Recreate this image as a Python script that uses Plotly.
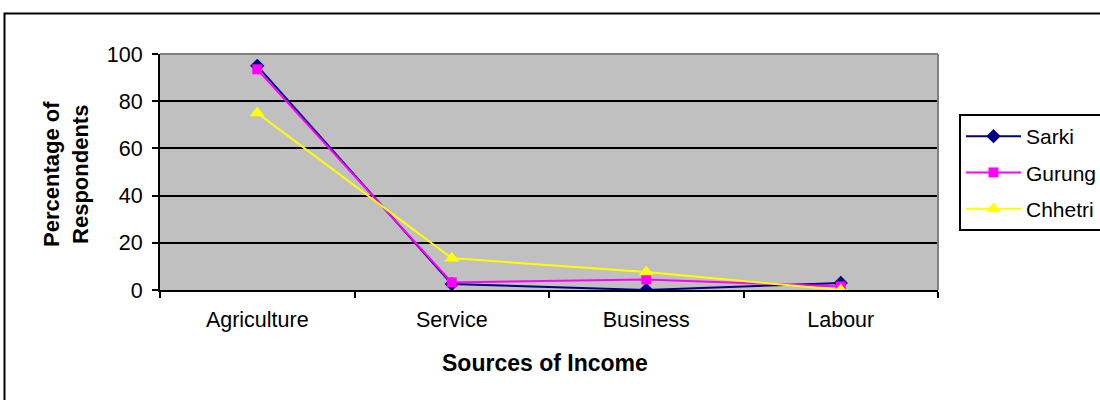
import plotly.graph_objects as go

# Share of respondents (%) by main source of income, per community
sources = ["Agriculture", "Service", "Business", "Labour"]
sarki = [95, 2.5, 0, 3]
gurung = [93.5, 3.2, 4.5, 1.5]
chhetri = [75, 13.5, 7.6, 0]

FONT = "Liberation Sans, Arial, sans-serif"
W, H = 1100, 400
L, R, T, B = 160, 938, 54, 290  # plot area edges in px


def px_x(px):
    return (px - L) / (R - L)


def px_y(py):
    return (B - py) / (B - T)


fig = go.Figure()

fig.add_trace(go.Scatter(
    x=sources, y=sarki, name="Sarki", mode="lines+markers",
    line=dict(color="#000080", width=2),
    marker=dict(symbol="diamond", size=11, color="#000080"),
    legendgroup="a",
))
fig.add_trace(go.Scatter(
    x=sources, y=gurung, name="Gurung", mode="lines+markers",
    line=dict(color="#FF00FF", width=2),
    marker=dict(symbol="square", size=10, color="#FF00FF"),
    legendgroup="b",
))
fig.add_trace(go.Scatter(
    x=sources, y=chhetri, name="Chhetri", mode="lines+markers",
    line=dict(color="#FFFF00", width=2),
    marker=dict(symbol="triangle-up", size=13, color="#FFFF00"),
    legendgroup="c",
))

shapes = [
    # gray frame on the top and right of the plot area
    dict(type="line", xref="paper", yref="paper", x0=0, x1=1, y0=1, y1=1,
         line=dict(color="#808080", width=2), layer="above"),
    dict(type="line", xref="paper", yref="paper", x0=1, x1=1, y0=0, y1=1,
         line=dict(color="#808080", width=2), layer="above"),
    # outer chart border
    dict(type="rect", xref="paper", yref="paper",
         x0=px_x(4.5), x1=px_x(W + 20), y0=px_y(13.5), y1=px_y(H + 20),
         line=dict(color="black", width=2), fillcolor="rgba(0,0,0,0)",
         layer="below"),
]

annotations = [
    dict(text="<b>Percentage of<br>Respondents</b>", xref="paper", yref="paper",
         x=px_x(66), y=px_y(174), textangle=-90, showarrow=False,
         font=dict(family=FONT, size=22, color="black"),
         xanchor="center", yanchor="middle"),
    dict(text="<b>Sources of Income</b>", xref="paper", yref="paper",
         x=px_x(545), y=px_y(363), showarrow=False,
         font=dict(family=FONT, size=23, color="black"),
         xanchor="center", yanchor="middle"),
]

fig.update_layout(
    width=W, height=H,
    margin=dict(l=L, r=W - R, t=T, b=H - B, pad=0, autoexpand=False),
    paper_bgcolor="white",
    plot_bgcolor="#C0C0C0",
    font=dict(family=FONT, size=21, color="black"),
    showlegend=True,
    legend=dict(
        x=px_x(959), y=px_y(114), xanchor="left", yanchor="top",
        bgcolor="white", bordercolor="black", borderwidth=2,
        font=dict(family=FONT, size=21, color="black"),
        itemwidth=55, tracegroupgap=6, traceorder="grouped",
    ),
    xaxis=dict(
        type="category", range=[-0.5, 3.5], tickson="boundaries",
        ticks="outside", ticklen=6, tickcolor="black", tickwidth=1.5,
        showline=True, linecolor="black", linewidth=2,
        showgrid=False, zeroline=False, automargin=False,
        tickfont=dict(family=FONT, size=21.5), ticklabelstandoff=9,
    ),
    yaxis=dict(
        range=[0, 100], dtick=20, tick0=0,
        ticks="outside", ticklen=6, tickcolor="black", tickwidth=1.5,
        showline=True, linecolor="black", linewidth=2,
        showgrid=True, gridcolor="black", gridwidth=1.5,
        zeroline=False, automargin=False,
        tickfont=dict(family=FONT, size=21.5), ticklabelstandoff=5,
    ),
    shapes=shapes,
    annotations=annotations,
)

fig.write_html("out.html")
